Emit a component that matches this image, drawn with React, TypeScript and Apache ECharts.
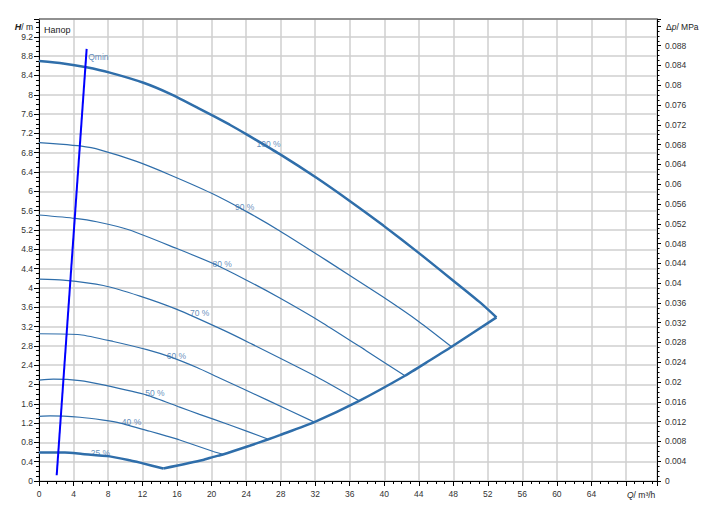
import React, { useEffect, useRef } from "react";
import * as echarts from "echarts";

// Pump curves: [Q m³/h, H m]
const curve100: number[][] = [[0, 8.7], [2.8, 8.65], [5.5, 8.57], [8.2, 8.46], [12.1, 8.25], [15.2, 8.02], [18.5, 7.72], [22.1, 7.38], [24.05, 7.18], [27.9, 6.77], [32.15, 6.28], [36.0, 5.8], [39.9, 5.29], [44.1, 4.71], [48.0, 4.15], [51.1, 3.7], [53.0, 3.39]];
const curve90: number[][] = [[0, 7.01], [2.4, 6.98], [4.75, 6.94], [7.06, 6.86], [11.3, 6.62], [15.2, 6.34], [20.0, 5.96], [24.05, 5.58], [27.9, 5.18], [33.3, 4.57], [39.7, 3.83], [44.1, 3.29], [47.8, 2.78]];
const curve80: number[][] = [[0, 5.51], [4.17, 5.44], [6.68, 5.37], [10.5, 5.2], [15.9, 4.82], [20.1, 4.51], [24.05, 4.16], [27.9, 3.79], [32.9, 3.27], [37.9, 2.7], [42.4, 2.18]];
const curve70: number[][] = [[0, 4.18], [2.8, 4.16], [7.45, 4.05], [11.7, 3.83], [15.9, 3.56], [21.3, 3.13], [24.4, 2.86], [32.15, 2.16], [37.1, 1.66]];
const curve60: number[][] = [[0, 3.05], [4.75, 3.03], [8.6, 2.89], [12.5, 2.72], [15.2, 2.57], [18.3, 2.35], [20.6, 2.16], [26.4, 1.68], [31.9, 1.22]];
const curve50: number[][] = [[0, 2.09], [1.66, 2.11], [4.75, 2.08], [7.45, 1.99], [12.5, 1.78], [16.3, 1.53], [18.6, 1.38], [22.1, 1.16], [26.5, 0.87]];
const curve40: number[][] = [[0, 1.34], [1.3, 1.35], [4.75, 1.32], [7.45, 1.26], [9.4, 1.2], [12.85, 1.03], [14.8, 0.93], [16.3, 0.85], [20.2, 0.61], [21.3, 0.55]];
const curve25: number[][] = [[0, 0.59], [3.0, 0.59], [5.0, 0.56], [8.2, 0.51], [10.5, 0.43], [11.7, 0.38], [14.4, 0.26]];
const maxFlowCurve: number[][] = [[14.4, 0.26], [19.0, 0.435], [20.2, 0.5], [21.3, 0.55], [24.4, 0.73], [26.5, 0.86], [27.9, 0.95], [31.9, 1.22], [37.1, 1.66], [42.4, 2.18], [45.3, 2.5], [47.8, 2.78], [53.0, 3.39]];
const qminLine: number[][] = [[2.05, 0.12], [5.52, 8.95]];

// Curve labels: [Q, H, text]
const curveLabels: [number, number, string][] = [
  [25.2, 6.98, "100 %"],
  [22.7, 5.67, "90 %"],
  [20.1, 4.5, "80 %"],
  [17.5, 3.49, "70 %"],
  [14.8, 2.59, "60 %"],
  [12.3, 1.83, "50 %"],
  [9.6, 1.23, "40 %"],
  [6.0, 0.59, "25 %"],
  [5.7, 8.79, "Qmin"],
];

const xMax = 71.6;
const hMax = 9.57;
const pMax = 0.0934;

const FONT = "Liberation Sans, Arial, sans-serif";
const CURVE = "#2f6eaa";
const LABEL = "#3a70aa";

export default function App() {
  const ref = useRef<HTMLDivElement>(null);
  useEffect(() => {
    if (!ref.current) return;
    const chart = echarts.init(ref.current, undefined, { renderer: "svg" });
    const thin = (data: number[][]) => ({
      type: "line",
      data,
      showSymbol: false,
      smooth: 0.2,
      lineStyle: { color: CURVE, width: 1.2 },
      xAxisIndex: 0,
      yAxisIndex: 0,
      z: 3,
    });
    const thick = (data: number[][]) => ({
      ...thin(data),
      lineStyle: { color: CURVE, width: 2.5 },
    });
    chart.setOption({
      animation: false,
      grid: { left: 39, right: 61, top: 19, bottom: 39, containLabel: false, outerBoundsMode: "none" },
      xAxis: {
        type: "value",
        min: 0,
        max: xMax,
        interval: 4,
        axisLine: { show: true, lineStyle: { color: "#000", width: 1 } },
        axisTick: { show: true, length: 5, lineStyle: { color: "#000" } },
        minorTick: { show: true, splitNumber: 4, length: 3, lineStyle: { color: "#000" } },
        splitLine: { show: true, lineStyle: { color: "#cfcfcf", width: 1.5 } },
        axisLabel: {
          margin: 8,
          fontSize: 8.5,
          color: "#333",
          fontFamily: FONT,
          showMaxLabel: false,
          formatter: (v: number) => (v >= 67 ? "" : String(Math.round(v))),
        },
      },
      yAxis: [
        {
          type: "value",
          min: 0,
          max: hMax,
          interval: 0.4,
          axisLine: { show: true, lineStyle: { color: "#000", width: 1 } },
          axisTick: { show: true, length: 5, lineStyle: { color: "#000" } },
          minorTick: { show: true, splitNumber: 4, length: 3, lineStyle: { color: "#000" } },
          splitLine: { show: true, lineStyle: { color: "#cfcfcf", width: 1.5 } },
          axisLabel: {
            margin: 6,
            fontSize: 8.5,
            color: "#333",
            fontFamily: FONT,
            showMaxLabel: false,
            formatter: (v: number) => (v > 9.3 ? "" : String(+v.toFixed(1))),
          },
        },
        {
          type: "value",
          position: "right",
          min: 0,
          max: pMax,
          interval: 0.004,
          axisLine: { show: true, onZero: false, lineStyle: { color: "#000", width: 1 } },
          axisTick: { show: true, length: 4, lineStyle: { color: "#000" } },
          minorTick: { show: true, splitNumber: 4, length: 2.5, lineStyle: { color: "#000" } },
          splitLine: { show: false },
          axisLabel: {
            margin: 8,
            fontSize: 8.5,
            color: "#333",
            fontFamily: FONT,
            showMaxLabel: false,
            formatter: (v: number) => (v > 0.09 ? "" : String(+v.toFixed(3))),
          },
        },
      ],
      series: [
        thick(curve100),
        thin(curve90),
        thin(curve80),
        thin(curve70),
        thin(curve60),
        thin(curve50),
        thin(curve40),
        thick(curve25),
        thick(maxFlowCurve),
        {
          type: "line",
          data: qminLine,
          showSymbol: false,
          lineStyle: { color: "#0000ff", width: 2 },
          z: 4,
        },
        {
          type: "scatter",
          data: curveLabels.map((d) => ({ value: [d[0], d[1]], name: d[2] })),
          symbolSize: 0,
          z: 5,
          silent: true,
          label: {
            show: true,
            position: "right",
            distance: 0,
            formatter: (p: any) => p.name,
            fontSize: 8.5,
            color: LABEL,
            fontFamily: FONT,
          },
        },
      ],
      graphic: [
        {
          type: "line",
          shape: { x1: 39, y1: 19, x2: 657, y2: 19 },
          style: { stroke: "#777", lineWidth: 1.5 },
          z: 10,
        },
        {
          type: "text",
          x: 44,
          y: 29.5,
          style: { text: "Напор", fontSize: 9, fill: "#222", fontFamily: FONT, verticalAlign: "middle", align: "left" },
        },
        {
          type: "text",
          x: 33,
          y: 27,
          style: {
            text: "{h|H}/ m",
            fontSize: 8.5,
            fill: "#222",
            fontFamily: FONT,
            align: "right",
            verticalAlign: "middle",
            rich: { h: { fontWeight: "bold", fontStyle: "italic", fontSize: 9, fontFamily: FONT, fill: "#222" } },
          },
        },
        {
          type: "text",
          x: 666,
          y: 27,
          style: {
            text: "Δ{i|p}/ MPa",
            fontSize: 8.5,
            fill: "#222",
            fontFamily: FONT,
            align: "left",
            verticalAlign: "middle",
            rich: { i: { fontStyle: "italic", fontSize: 8.5, fontFamily: FONT, fill: "#222" } },
          },
        },
        {
          type: "text",
          x: 627,
          y: 494.5,
          style: {
            text: "{i|Q}/ m³/h",
            fontSize: 8.5,
            fill: "#222",
            fontFamily: FONT,
            align: "left",
            verticalAlign: "middle",
            rich: { i: { fontStyle: "italic", fontSize: 8.5, fontFamily: FONT, fill: "#222" } },
          },
        },
      ],
    });
    return () => chart.dispose();
  }, []);
  return <div ref={ref} style={{ width: 718, height: 520, position: "absolute", left: 0, top: 0 }} />;
}
